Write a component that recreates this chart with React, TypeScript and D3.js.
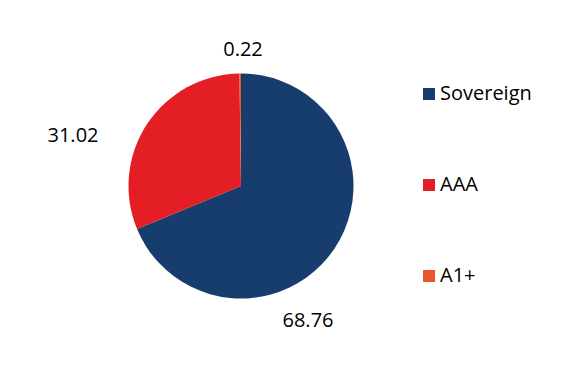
import { useEffect, useRef } from "react";
import * as d3 from "d3";

const categories = ["Sovereign", "AAA", "A1+"];
const values = [68.76, 31.02, 0.22];
const colors = ["#173D6F", "#E31E24", "#E8562A"];

const width = 568;
const height = 365;

export default function App() {
  const ref = useRef<SVGSVGElement>(null);

  useEffect(() => {
    const svg = d3.select(ref.current);
    svg.selectAll("*").remove();

    const cx = 241;
    const cy = 186;
    const radius = 112.5;
    const font = "'Open Sans', 'Noto Sans', sans-serif";

    const data = categories.map((c, i) => ({ name: c, value: values[i] }));
    const pie = d3.pie<{ name: string; value: number }>().sort(null).value(d => d.value);
    const arc = d3.arc<d3.PieArcDatum<{ name: string; value: number }>>()
      .innerRadius(0)
      .outerRadius(radius);

    const g = svg.append("g").attr("transform", `translate(${cx},${cy})`);
    const arcs = pie(data);

    g.selectAll("path")
      .data(arcs)
      .enter().append("path")
      .attr("d", arc)
      .attr("fill", (_, i) => colors[i]);

    // value labels, nudged like the original
    const labelOffsets = [
      [67, 141],
      [-168, -44],
      [2, -130],
    ];
    g.selectAll("text.val")
      .data(arcs)
      .enter().append("text")
      .attr("class", "val")
      .attr("x", (_, i) => labelOffsets[i][0])
      .attr("y", (_, i) => labelOffsets[i][1])
      .attr("text-anchor", "middle")
      .attr("font-family", font)
      .attr("font-size", 20)
      .attr("fill", "#000")
      .text(d => d.data.value.toFixed(2));

    // legend
    const legend = svg.append("g").attr("transform", "translate(423, 100)");
    categories.forEach((c, i) => {
      const row = legend.append("g").attr("transform", `translate(0, ${i * 91})`);
      row.append("rect")
        .attr("x", 0)
        .attr("y", -12)
        .attr("width", 12)
        .attr("height", 12)
        .attr("fill", colors[i]);
      row.append("text")
        .attr("x", 17)
        .attr("y", 0)
        .attr("font-family", font)
        .attr("font-size", 20)
        .attr("fill", "#000")
        .text(c);
    });
  }, []);

  return (
    <svg
      ref={ref}
      width={width}
      height={height}
      style={{ position: "absolute", left: 0, top: 0, background: "#fff" }}
    />
  );
}
